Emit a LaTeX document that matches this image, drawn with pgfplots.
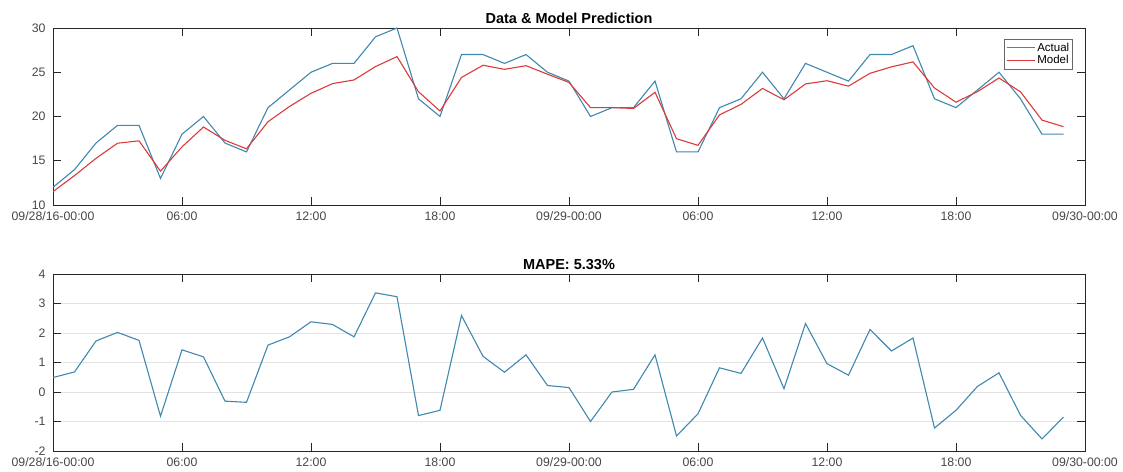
\documentclass[border=0pt]{standalone}
\usepackage{fontspec}
\setmainfont{Liberation Sans}
\usepackage{pgfplots}
\usepackage{pgfplotstable}
\pgfplotsset{compat=1.18}
\definecolor{actualblue}{HTML}{3F88AE}
\definecolor{modelred}{HTML}{DC3A3A}
\definecolor{axisgray}{HTML}{262626}
\definecolor{gridgray}{HTML}{E3E3E3}

% hour, actual, model, residual (actual - model)
\pgfplotstableread{
h actual model resid
0  12 11.51  0.49
1  14 13.32  0.68
2  17 15.27  1.73
3  19 16.98  2.02
4  19 17.25  1.75
5  13 13.82 -0.82
6  18 16.57  1.43
7  20 18.81  1.19
8  17 17.31 -0.31
9  16 16.35 -0.35
10 21 19.41  1.59
11 23 21.13  1.87
12 25 22.62  2.38
13 26 23.71  2.29
14 26 24.13  1.87
15 29 25.64  3.36
16 30 26.77  3.23
17 22 22.80 -0.80
18 20 20.62 -0.62
19 27 24.41  2.59
20 27 25.79  1.21
21 26 25.33  0.67
22 27 25.74  1.26
23 25 24.78  0.22
24 24 23.85  0.15
25 20 21.00 -1.00
26 21 21.00  0.00
27 21 20.91  0.09
28 24 22.74  1.26
29 16 17.49 -1.49
30 16 16.74 -0.74
31 21 20.18  0.82
32 22 21.37  0.63
33 25 23.17  1.83
34 22 21.89  0.11
35 26 23.68  2.32
36 25 24.04  0.96
37 24 23.43  0.57
38 27 24.88  2.12
39 27 25.61  1.39
40 28 26.17  1.83
41 22 23.22 -1.22
42 21 21.62 -0.62
43 23 22.81  0.19
44 25 24.35  0.65
45 22 22.79 -0.79
46 18 19.59 -1.59
47 18 18.85 -0.85
}\datatable

\pgfplotsset{
  panel/.style={
    width=1032pt, height=177pt, scale only axis,
    anchor=south west,
    xmin=0, xmax=48,
    xtick={0,6,...,48},
    xticklabels={09/28/16-00:00,06:00,12:00,18:00,09/29-00:00,06:00,12:00,18:00,09/30-00:00},
    xtick pos=both, ytick pos=both,
    tick align=inside,
    major tick length=8pt,
    tick style={axisgray, line width=0.6pt},
    axis line style={axisgray, line width=0.6pt},
    /pgf/number format/assume math mode=true,
    ticklabel style={font=\fontsize{12.3}{14}\selectfont, text=axisgray!85},
    xticklabel style={yshift=-3pt},
    yticklabel style={xshift=-4pt},
    title style={at={(0.5,1)}, anchor=base, yshift=-2pt,
      font=\bfseries\fontsize{14.5}{16}\selectfont, text=black},
    every axis plot/.append style={line width=1.1pt},
  },
}

\begin{document}
\begin{tikzpicture}
\path[use as bounding box] (0pt,0pt) rectangle (1123pt,471pt);

\begin{axis}[panel, at={(53pt,266pt)},
  ymin=10, ymax=30, ytick={10,15,...,30},
  title={Data \& Model Prediction},
  legend style={at={(1,1)}, anchor=north east, xshift=-12pt, yshift=-11pt,
    font=\fontsize{11.5}{13.5}\selectfont, draw=axisgray!70, line width=0.5pt,
    inner sep=1.5pt, row sep=-1pt, cells={anchor=west}},
  legend image code/.code={\draw[#1] (0pt,0pt) -- (28pt,0pt);},
]
\addplot[actualblue] table[x=h, y=actual] {\datatable};
\addlegendentry{Actual}
\addplot[modelred] table[x=h, y=model] {\datatable};
\addlegendentry{Model}
\end{axis}

\begin{axis}[panel, at={(53pt,20pt)},
  ymin=-2, ymax=4, ytick={-2,-1,...,4},
  ymajorgrids, grid style={gridgray, line width=0.6pt},
  title={MAPE: 5.33\%},
]
\addplot[actualblue] table[x=h, y=resid] {\datatable};
\end{axis}
\end{tikzpicture}
\end{document}
